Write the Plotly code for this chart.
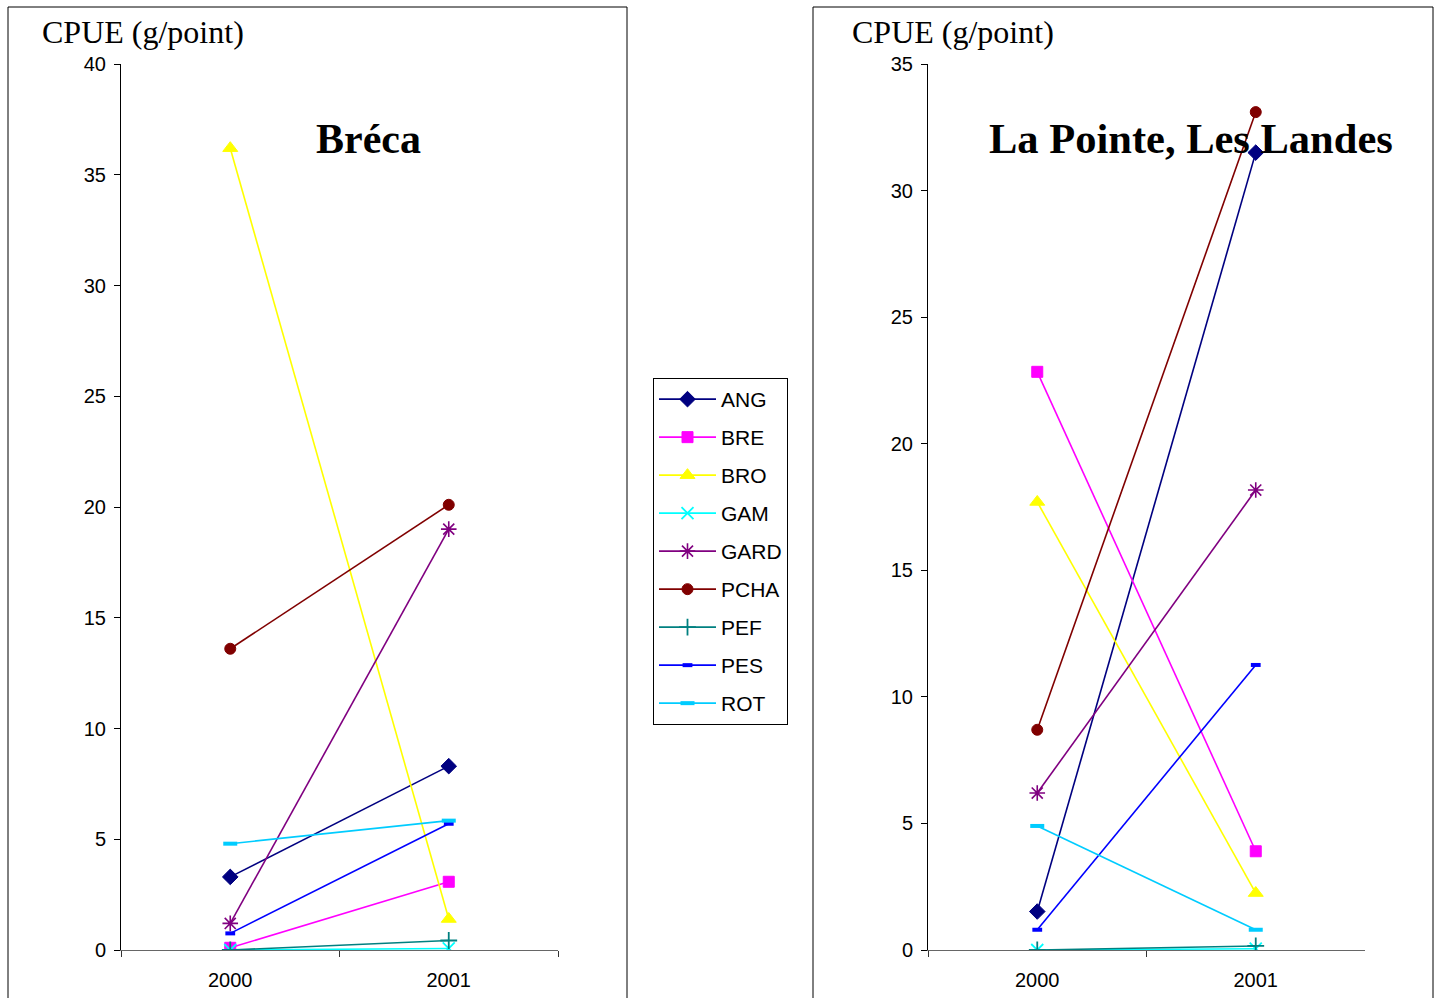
import plotly.graph_objects as go

# CPUE per species and site, 2000 vs 2001
years = ["2000", "2001"]
species = ["ANG", "BRE", "BRO", "GAM", "GARD", "PCHA", "PEF", "PES", "ROT"]

breca = {
    "ANG": [3.3, 8.3],
    "BRE": [0.1, 3.08],
    "BRO": [36.2, 1.4],
    "GAM": [0.0, 0.07],
    "GARD": [1.2, 19.0],
    "PCHA": [13.6, 20.1],
    "PEF": [0.0, 0.43],
    "PES": [0.75, 5.7],
    "ROT": [4.8, 5.84],
}

pointe_landes = {
    "ANG": [1.52, 31.5],
    "BRE": [22.84, 3.9],
    "BRO": [17.7, 2.25],
    "GAM": [0.0, 0.05],
    "GARD": [6.2, 18.17],
    "PCHA": [8.7, 33.1],
    "PEF": [0.0, 0.16],
    "PES": [0.8, 11.26],
    "ROT": [4.9, 0.8],
}

styles = {
    "ANG": dict(color="#000080", symbol="diamond", size=12, lw=1),
    "BRE": dict(color="#FF00FF", symbol="square", size=11, lw=1),
    "BRO": dict(color="#FFFF00", symbol="triangle-up", size=13, lw=1),
    "GAM": dict(color="#00FFFF", symbol="x-thin-open", size=12, lw=1.8),
    "GARD": dict(color="#800080", symbol="asterisk-open", size=13, lw=1.6),
    "PCHA": dict(color="#800000", symbol="circle", size=11, lw=1),
    "PEF": dict(color="#008080", symbol="cross-thin-open", size=12, lw=1.8),
    "PES": dict(color="#0000FF", symbol="line-ew-open", size=7, lw=4),
    "ROT": dict(color="#00CCFF", symbol="line-ew-open", size=10, lw=4),
}

W, H = 1440, 998
fig = go.Figure()

for data, xa, ya, show in [(breca, "x", "y", True), (pointe_landes, "x2", "y2", False)]:
    for sp in species:
        s = styles[sp]
        fig.add_trace(go.Scatter(
            x=years, y=data[sp], name=sp, mode="lines+markers",
            xaxis=xa, yaxis=ya, legendgroup=sp, showlegend=show,
            line=dict(color=s["color"], width=1.6),
            marker=dict(color=s["color"], symbol=s["symbol"], size=s["size"],
                        line=dict(color=s["color"], width=s["lw"])),
        ))


def px(x):
    return x / W


def py(y):
    return 1 - y / H


tickfont = dict(family="Liberation Sans, Arial", size=20, color="black")
xcommon = dict(type="category", range=[-0.5, 1.5], showline=True, linecolor="#666666",
               linewidth=1, ticks="outside", tickson="boundaries", ticklen=6,
               tickcolor="#333333", tickfont=tickfont, showgrid=False, zeroline=False,
               ticklabelstandoff=12, fixedrange=True, automargin=False)
ycommon = dict(showline=True, linecolor="black", linewidth=1, ticks="outside", ticklen=6,
               tickcolor="black", tickfont=tickfont, showgrid=False, zeroline=False,
               dtick=5, ticklabelstandoff=4, fixedrange=True, automargin=False)

fig.update_layout(
    width=W, height=H, margin=dict(l=0, r=0, t=0, b=0, pad=0, autoexpand=False),
    paper_bgcolor="white", plot_bgcolor="white",
    xaxis=dict(domain=[px(121), px(558)], anchor="y", **xcommon),
    yaxis=dict(domain=[py(950), py(64)], anchor="x", range=[0, 40], **ycommon),
    xaxis2=dict(domain=[px(928), px(1365)], anchor="y2", **xcommon),
    yaxis2=dict(domain=[py(950), py(64)], anchor="x2", range=[0, 35], **ycommon),
    legend=dict(x=px(653), y=py(378), xanchor="left", yanchor="top",
                bordercolor="black", borderwidth=1, bgcolor="white",
                font=dict(family="Liberation Sans, Arial", size=21, color="black"),
                tracegroupgap=7.7, traceorder="grouped", itemwidth=57),
    showlegend=True,
)

# panel frames
for x0, x1 in [(8, 627), (813, 1433)]:
    fig.add_shape(type="rect", xref="paper", yref="paper",
                  x0=px(x0), x1=px(x1), y0=-0.02, y1=py(7),
                  line=dict(color="black", width=1), fillcolor="rgba(0,0,0,0)")

serif = "Liberation Serif, Times New Roman"
for x in [40, 850]:
    fig.add_annotation(text="CPUE (g/point)", xref="paper", yref="paper",
                       x=px(x), y=py(32), xanchor="left", yanchor="middle",
                       showarrow=False, font=dict(family=serif, size=32, color="black"))

fig.add_annotation(text="<b>Bréca</b>", xref="paper", yref="paper",
                   x=px(369), y=py(139), xanchor="center", yanchor="middle",
                   showarrow=False, font=dict(family=serif, size=42, color="black"))
fig.add_annotation(text="<b>La Pointe, Les Landes</b>", xref="paper", yref="paper",
                   x=px(1191), y=py(139), xanchor="center", yanchor="middle",
                   showarrow=False, font=dict(family=serif, size=42.5, color="black"))

fig.write_html("out.html")
